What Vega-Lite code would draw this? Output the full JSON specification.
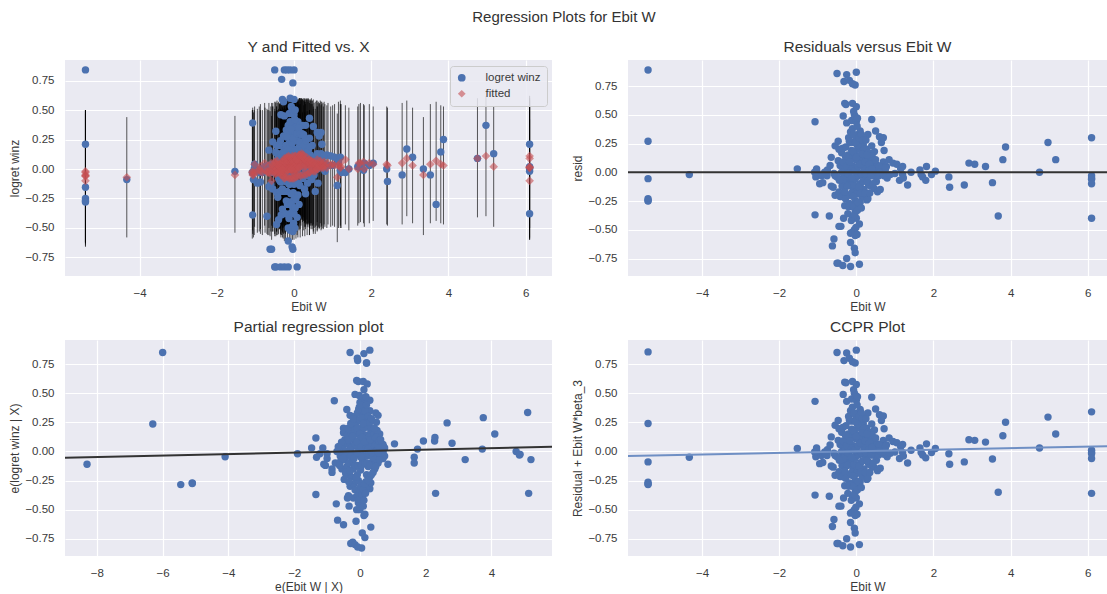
{"$schema":"https://vega.github.io/schema/vega-lite/v6.json","padding":{"left":8,"top":9,"right":0,"bottom":0},"background":"white","title":{"text":"Regression Plots for Ebit W","fontSize":15,"fontWeight":"normal","color":"#333333","anchor":"middle","offset":15.5,"dx":6},"config":{"font":"Liberation Sans","view":{"fill":"#EAEAF2","stroke":null},"axis":{"domain":false,"ticks":false,"grid":true,"gridColor":"#FFFFFF","gridWidth":1.2,"labelColor":"#3a3a3a","titleColor":"#3a3a3a","labelFontSize":11.5,"titleFontSize":12,"titleFontWeight":"normal","labelPadding":11,"titlePadding":3,"labelOverlap":false,"tickCount":20},"title":{"fontSize":15.5,"fontWeight":"normal","color":"#333333","offset":4.5}},"datasets":{"obs":[
{"x":-5.4,"y":0.84,"f":-0.05,"lo":-0.65,"hi":0.5,"r":0.89,"c":0.855,"ex":-6,"ey":0.85},
{"x":-5.4,"y":0.21,"f":-0.06,"lo":-0.66,"hi":0.49,"r":0.27,"c":0.24,"ex":-6.3,"ey":0.235},
{"x":-5.4,"y":-0.155,"f":-0.1,"lo":-0.62,"hi":0.47,"r":-0.055,"c":-0.09,"ex":-8.3,"ey":-0.11},
{"x":-5.4,"y":-0.25,"f":-0.02,"lo":-0.62,"hi":0.5,"r":-0.23,"c":-0.265,"ex":-5.1,"ey":-0.27},
{"x":-5.4,"y":-0.28,"f":-0.03,"lo":-0.63,"hi":0.5,"r":-0.25,"c":-0.285,"ex":-5.45,"ey":-0.285},
{"x":-5.4,"y":-0.27,"f":-0.06,"lo":-0.63,"hi":0.5,"r":-0.245,"c":-0.28,"ex":-5.1,"ey":-0.275},
{"x":-4.33,"y":-0.09,"f":-0.07,"lo":-0.58,"hi":0.44,"r":-0.02,"c":-0.05,"ex":-4.1,"ey":-0.045},
{"x":-1.53,"y":-0.02,"f":-0.05,"lo":-0.54,"hi":0.45,"r":0.03,"c":0.025,"ex":-1.9,"ey":-0.02},
{"x":-1.07,"y":0.39,"f":-0.05,"lo":-0.52,"hi":0.52,"r":0.44,"c":0.43,"ex":-0.78,"ey":0.435},
{"x":-1.07,"y":-0.39,"f":-0.02,"lo":-0.55,"hi":0.5,"r":-0.37,"c":-0.375,"ex":-1.34,"ey":-0.37},
{"x":-1.03,"y":0.0,"f":-0.03,"lo":-0.56,"hi":0.5,"r":0.03,"c":0.03,"ex":-1.47,"ey":0.03},
{"x":-1.08,"y":-0.03,"f":-0.03,"lo":-0.59,"hi":0.5,"r":0.0,"c":-0.005,"ex":-1.22,"ey":-0.02},
{"x":-1.05,"y":-0.09,"f":-0.05,"lo":-0.58,"hi":0.48,"r":-0.04,"c":-0.045,"ex":-1.32,"ey":-0.05},
{"x":-1.02,"y":0.04,"f":0.04,"lo":-0.49,"hi":0.53,"r":0.0,"c":0.0,"ex":-1.13,"ey":0.03},
{"x":-0.95,"y":-0.12,"f":-0.02,"lo":-0.54,"hi":0.51,"r":-0.1,"c":-0.105,"ex":-1.05,"ey":-0.12},
{"x":-0.87,"y":-0.11,"f":-0.02,"lo":-0.55,"hi":0.5,"r":-0.09,"c":-0.095,"ex":-1.1,"ey":-0.11},
{"x":-0.9,"y":-0.03,"f":0.0,"lo":-0.53,"hi":0.53,"r":-0.03,"c":-0.035,"ex":-1.0,"ey":-0.02},
{"x":-0.87,"y":0.0,"f":0.02,"lo":-0.51,"hi":0.55,"r":-0.02,"c":-0.025,"ex":-1.0,"ey":-0.06},
{"x":-0.75,"y":0.01,"f":-0.01,"lo":-0.54,"hi":0.52,"r":0.02,"c":0.015,"ex":-0.85,"ey":-0.15},
{"x":-0.7,"y":-0.4,"f":-0.02,"lo":-0.55,"hi":0.51,"r":-0.38,"c":-0.385,"ex":-0.72,"ey":-0.45},
{"x":-0.65,"y":0.16,"f":0.03,"lo":-0.5,"hi":0.56,"r":0.13,"c":0.125,"ex":-1.34,"ey":0.115},
{"x":-0.65,"y":-0.15,"f":-0.03,"lo":-0.56,"hi":0.5,"r":-0.12,"c":-0.125,"ex":-0.85,"ey":-0.18},
{"x":-0.62,"y":-0.68,"f":-0.04,"lo":-0.57,"hi":0.49,"r":-0.64,"c":-0.645,"ex":-0.5,"ey":-0.63},
{"x":-0.58,"y":-0.68,"f":-0.1,"lo":-0.6,"hi":0.45,"r":-0.58,"c":-0.585,"ex":-0.68,"ey":-0.59},
{"x":-0.55,"y":0.23,"f":0.0,"lo":-0.53,"hi":0.53,"r":0.23,"c":0.225,"ex":-0.5,"ey":0.2},
{"x":-0.55,"y":-0.17,"f":0.03,"lo":-0.5,"hi":0.56,"r":-0.2,"c":-0.205,"ex":-0.48,"ey":-0.24},
{"x":-0.6,"y":-0.13,"f":0.0,"lo":-0.53,"hi":0.53,"r":-0.13,"c":-0.135,"ex":-0.75,"ey":-0.1},
{"x":-0.55,"y":-0.03,"f":0.0,"lo":-0.53,"hi":0.53,"r":-0.03,"c":-0.035,"ex":-0.6,"ey":-0.04},
{"x":-0.5,"y":0.84,"f":-0.02,"lo":-0.55,"hi":0.51,"r":0.86,"c":0.85,"ex":-0.3,"ey":0.85},
{"x":-0.5,"y":-0.83,"f":-0.04,"lo":-0.57,"hi":0.49,"r":-0.79,"c":-0.79,"ex":-0.28,"ey":-0.79},
{"x":-0.47,"y":-0.83,"f":-0.04,"lo":-0.57,"hi":0.49,"r":-0.79,"c":-0.79,"ex":-0.22,"ey":-0.78},
{"x":-0.47,"y":0.32,"f":0.05,"lo":-0.48,"hi":0.56,"r":0.27,"c":0.265,"ex":-0.3,"ey":0.31},
{"x":-0.47,"y":0.14,"f":0.04,"lo":-0.49,"hi":0.57,"r":0.1,"c":0.095,"ex":-0.6,"ey":0.05},
{"x":-0.45,"y":-0.2,"f":-0.03,"lo":-0.56,"hi":0.5,"r":-0.17,"c":-0.175,"ex":-0.6,"ey":-0.09},
{"x":-0.45,"y":-0.47,"f":0.0,"lo":-0.53,"hi":0.53,"r":-0.47,"c":-0.47,"ex":-0.33,"ey":-0.47},
{"x":-0.45,"y":0.2,"f":0.0,"lo":-0.53,"hi":0.53,"r":0.2,"c":0.195,"ex":-0.5,"ey":0.16},
{"x":-0.42,"y":-0.24,"f":-0.03,"lo":-0.56,"hi":0.5,"r":-0.21,"c":-0.215,"ex":-0.55,"ey":-0.15},
{"x":-0.4,"y":-0.43,"f":0.04,"lo":-0.49,"hi":0.57,"r":-0.47,"c":-0.47,"ex":-0.38,"ey":-0.4},
{"x":-0.38,"y":0.2,"f":0.03,"lo":-0.5,"hi":0.56,"r":0.17,"c":0.165,"ex":-0.55,"ey":0.0},
{"x":-0.38,"y":0.02,"f":0.02,"lo":-0.51,"hi":0.55,"r":0.0,"c":0.0,"ex":-0.5,"ey":0.05},
{"x":-0.36,"y":-0.19,"f":0.02,"lo":-0.51,"hi":0.55,"r":-0.21,"c":-0.215,"ex":-0.42,"ey":-0.2},
{"x":-0.35,"y":-0.83,"f":-0.02,"lo":-0.55,"hi":0.51,"r":-0.81,"c":-0.81,"ex":-0.15,"ey":-0.8},
{"x":-0.35,"y":0.24,"f":0.03,"lo":-0.5,"hi":0.56,"r":0.21,"c":0.205,"ex":-0.4,"ey":0.36},
{"x":-0.34,"y":0.46,"f":-0.03,"lo":-0.56,"hi":0.5,"r":0.49,"c":0.49,"ex":-0.15,"ey":0.49},
{"x":-0.33,"y":-0.39,"f":0.01,"lo":-0.52,"hi":0.54,"r":-0.4,"c":-0.4,"ex":-0.35,"ey":-0.38},
{"x":-0.33,"y":-0.02,"f":0.05,"lo":-0.48,"hi":0.58,"r":-0.07,"c":-0.07,"ex":-0.45,"ey":-0.07},
{"x":-0.32,"y":0.76,"f":-0.03,"lo":-0.56,"hi":0.5,"r":0.79,"c":0.78,"ex":-0.07,"ey":0.78},
{"x":-0.32,"y":0.1,"f":0.06,"lo":-0.47,"hi":0.59,"r":0.04,"c":0.04,"ex":-0.38,"ey":0.07},
{"x":-0.3,"y":0.59,"f":-0.01,"lo":-0.54,"hi":0.52,"r":0.6,"c":0.595,"ex":-0.1,"ey":0.61},
{"x":-0.3,"y":-0.34,"f":-0.05,"lo":-0.58,"hi":0.48,"r":-0.29,"c":-0.295,"ex":-0.3,"ey":-0.3},
{"x":-0.3,"y":-0.1,"f":0.03,"lo":-0.5,"hi":0.56,"r":-0.13,"c":-0.13,"ex":-0.4,"ey":-0.13},
{"x":-0.27,"y":0.57,"f":-0.02,"lo":-0.55,"hi":0.51,"r":0.59,"c":0.59,"ex":-0.05,"ey":0.6},
{"x":-0.26,"y":0.16,"f":0.03,"lo":-0.5,"hi":0.56,"r":0.13,"c":0.125,"ex":-0.35,"ey":0.2},
{"x":-0.25,"y":-0.83,"f":-0.08,"lo":-0.61,"hi":0.45,"r":-0.75,"c":-0.75,"ex":-0.07,"ey":-0.82},
{"x":-0.25,"y":0.45,"f":0.02,"lo":-0.51,"hi":0.55,"r":0.43,"c":0.43,"ex":0.0,"ey":0.42},
{"x":-0.25,"y":0.84,"f":-0.01,"lo":-0.54,"hi":0.52,"r":0.85,"c":0.845,"ex":0.12,"ey":0.84},
{"x":-0.24,"y":-0.03,"f":0.05,"lo":-0.48,"hi":0.58,"r":-0.08,"c":-0.08,"ex":-0.32,"ey":-0.1},
{"x":-0.22,"y":-0.38,"f":-0.02,"lo":-0.55,"hi":0.51,"r":-0.36,"c":-0.36,"ex":-0.2,"ey":-0.4},
{"x":-0.22,"y":0.08,"f":0.08,"lo":-0.45,"hi":0.59,"r":0.0,"c":0.0,"ex":-0.33,"ey":0.0},
{"x":-0.2,"y":0.33,"f":0.03,"lo":-0.5,"hi":0.56,"r":0.3,"c":0.3,"ex":-0.15,"ey":0.3},
{"x":-0.2,"y":-0.27,"f":0.03,"lo":-0.5,"hi":0.56,"r":-0.3,"c":-0.3,"ex":-0.18,"ey":-0.28},
{"x":-0.19,"y":-0.11,"f":0.09,"lo":-0.44,"hi":0.58,"r":-0.2,"c":-0.2,"ex":-0.27,"ey":-0.22},
{"x":-0.18,"y":0.84,"f":0.04,"lo":-0.49,"hi":0.57,"r":0.8,"c":0.8,"ex":-0.08,"ey":0.8},
{"x":-0.17,"y":0.14,"f":0.06,"lo":-0.47,"hi":0.59,"r":0.08,"c":0.08,"ex":-0.25,"ey":0.12},
{"x":-0.16,"y":-0.05,"f":0.05,"lo":-0.48,"hi":0.58,"r":-0.1,"c":-0.1,"ex":-0.24,"ey":-0.05},
{"x":-0.15,"y":-0.61,"f":0.0,"lo":-0.53,"hi":0.53,"r":-0.61,"c":-0.61,"ex":-0.12,"ey":-0.6},
{"x":-0.15,"y":0.37,"f":0.02,"lo":-0.51,"hi":0.55,"r":0.35,"c":0.35,"ex":-0.08,"ey":0.33},
{"x":-0.15,"y":-0.83,"f":-0.01,"lo":-0.54,"hi":0.52,"r":-0.82,"c":-0.82,"ex":0.05,"ey":-0.83},
{"x":-0.15,"y":-0.5,"f":0.03,"lo":-0.5,"hi":0.56,"r":-0.53,"c":-0.53,"ex":-0.1,"ey":-0.5},
{"x":-0.13,"y":0.05,"f":0.1,"lo":-0.43,"hi":0.59,"r":-0.05,"c":-0.05,"ex":-0.25,"ey":-0.02},
{"x":-0.12,"y":0.47,"f":0.02,"lo":-0.51,"hi":0.55,"r":0.45,"c":0.45,"ex":0.05,"ey":0.45},
{"x":-0.12,"y":0.22,"f":0.03,"lo":-0.5,"hi":0.56,"r":0.19,"c":0.19,"ex":-0.18,"ey":0.22},
{"x":-0.1,"y":0.84,"f":0.07,"lo":-0.46,"hi":0.59,"r":0.77,"c":0.77,"ex":0.2,"ey":0.76},
{"x":-0.1,"y":0.6,"f":0.0,"lo":-0.53,"hi":0.53,"r":0.6,"c":0.6,"ex":0.1,"ey":0.6},
{"x":-0.1,"y":-0.38,"f":0.02,"lo":-0.51,"hi":0.55,"r":-0.4,"c":-0.4,"ex":-0.05,"ey":-0.44},
{"x":-0.1,"y":-0.28,"f":0.02,"lo":-0.51,"hi":0.55,"r":-0.3,"c":-0.3,"ex":-0.12,"ey":-0.25},
{"x":-0.1,"y":-0.52,"f":0.0,"lo":-0.53,"hi":0.53,"r":-0.52,"c":-0.52,"ex":0.0,"ey":-0.5},
{"x":-0.09,"y":0.11,"f":0.09,"lo":-0.44,"hi":0.58,"r":0.02,"c":0.02,"ex":-0.18,"ey":0.05},
{"x":-0.08,"y":-0.07,"f":0.08,"lo":-0.45,"hi":0.59,"r":-0.15,"c":-0.15,"ex":-0.2,"ey":-0.15},
{"x":-0.07,"y":0.53,"f":0.0,"lo":-0.53,"hi":0.53,"r":0.53,"c":0.53,"ex":0.12,"ey":0.53},
{"x":-0.06,"y":0.3,"f":0.04,"lo":-0.49,"hi":0.57,"r":0.26,"c":0.26,"ex":-0.1,"ey":0.25},
{"x":-0.05,"y":0.5,"f":0.0,"lo":-0.53,"hi":0.53,"r":0.5,"c":0.5,"ex":-0.02,"ey":0.48},
{"x":-0.05,"y":-0.66,"f":0.0,"lo":-0.53,"hi":0.53,"r":-0.66,"c":-0.66,"ex":0.33,"ey":-0.65},
{"x":-0.05,"y":-0.49,"f":0.01,"lo":-0.52,"hi":0.54,"r":-0.5,"c":-0.5,"ex":0.0,"ey":-0.45},
{"x":-0.04,"y":0.06,"f":0.11,"lo":-0.42,"hi":0.6,"r":-0.05,"c":-0.05,"ex":-0.12,"ey":-0.03},
{"x":-0.03,"y":-0.68,"f":0.02,"lo":-0.51,"hi":0.55,"r":-0.7,"c":-0.7,"ex":0.07,"ey":-0.7},
{"x":-0.03,"y":0.73,"f":-0.03,"lo":-0.56,"hi":0.5,"r":0.76,"c":0.76,"ex":0.2,"ey":0.76},
{"x":-0.03,"y":-0.33,"f":0.02,"lo":-0.51,"hi":0.55,"r":-0.35,"c":-0.35,"ex":0.05,"ey":-0.35},
{"x":-0.03,"y":-0.53,"f":0.02,"lo":-0.51,"hi":0.55,"r":-0.55,"c":-0.55,"ex":0.12,"ey":-0.55},
{"x":-0.02,"y":0.5,"f":0.02,"lo":-0.51,"hi":0.55,"r":0.48,"c":0.48,"ex":0.15,"ey":0.43},
{"x":-0.02,"y":-0.2,"f":0.05,"lo":-0.48,"hi":0.58,"r":-0.25,"c":-0.25,"ex":-0.05,"ey":-0.25},
{"x":-0.01,"y":0.17,"f":0.06,"lo":-0.47,"hi":0.59,"r":0.11,"c":0.11,"ex":-0.12,"ey":0.15},
{"x":0.0,"y":0.84,"f":-0.03,"lo":-0.56,"hi":0.5,"r":0.87,"c":0.87,"ex":0.3,"ey":0.87},
{"x":0.0,"y":0.59,"f":0.02,"lo":-0.51,"hi":0.55,"r":0.57,"c":0.575,"ex":0.22,"ey":0.58},
{"x":0.0,"y":0.46,"f":0.02,"lo":-0.51,"hi":0.55,"r":0.44,"c":0.44,"ex":0.25,"ey":0.44},
{"x":0.0,"y":-0.38,"f":0.02,"lo":-0.51,"hi":0.55,"r":-0.4,"c":-0.4,"ex":0.08,"ey":-0.4},
{"x":0.0,"y":-0.26,"f":0.02,"lo":-0.51,"hi":0.55,"r":-0.28,"c":-0.28,"ex":0.05,"ey":-0.28},
{"x":0.0,"y":0.04,"f":0.04,"lo":-0.49,"hi":0.57,"r":0.0,"c":0.0,"ex":-0.05,"ey":0.0},
{"x":0.02,"y":-0.5,"f":0.04,"lo":-0.49,"hi":0.57,"r":-0.54,"c":-0.54,"ex":0.15,"ey":-0.54},
{"x":0.03,"y":-0.1,"f":0.06,"lo":-0.47,"hi":0.59,"r":-0.16,"c":-0.16,"ex":0.02,"ey":-0.16},
{"x":0.04,"y":0.09,"f":0.11,"lo":-0.42,"hi":0.6,"r":-0.02,"c":-0.02,"ex":-0.03,"ey":0.03},
{"x":0.05,"y":0.36,"f":0.03,"lo":-0.5,"hi":0.56,"r":0.33,"c":0.33,"ex":0.08,"ey":0.33},
{"x":0.05,"y":0.24,"f":0.04,"lo":-0.49,"hi":0.57,"r":0.2,"c":0.2,"ex":0.05,"ey":0.2},
{"x":0.08,"y":-0.83,"f":-0.03,"lo":-0.56,"hi":0.5,"r":-0.8,"c":-0.8,"ex":0.15,"ey":-0.74},
{"x":0.08,"y":-0.41,"f":0.04,"lo":-0.49,"hi":0.57,"r":-0.45,"c":-0.45,"ex":0.1,"ey":-0.47},
{"x":0.08,"y":0.15,"f":0.09,"lo":-0.44,"hi":0.58,"r":0.06,"c":0.06,"ex":0.02,"ey":0.08},
{"x":0.1,"y":0.4,"f":0.04,"lo":-0.49,"hi":0.57,"r":0.36,"c":0.36,"ex":0.12,"ey":0.38},
{"x":0.1,"y":-0.22,"f":0.04,"lo":-0.49,"hi":0.57,"r":-0.26,"c":-0.26,"ex":0.18,"ey":-0.26},
{"x":0.11,"y":0.0,"f":0.1,"lo":-0.43,"hi":0.59,"r":-0.1,"c":-0.1,"ex":0.08,"ey":-0.08},
{"x":0.12,"y":0.3,"f":0.05,"lo":-0.48,"hi":0.58,"r":0.25,"c":0.25,"ex":0.2,"ey":0.28},
{"x":0.14,"y":0.19,"f":0.11,"lo":-0.42,"hi":0.6,"r":0.08,"c":0.08,"ex":0.1,"ey":0.1},
{"x":0.15,"y":-0.14,"f":0.07,"lo":-0.46,"hi":0.6,"r":-0.21,"c":-0.21,"ex":0.2,"ey":-0.2},
{"x":0.17,"y":0.1,"f":0.12,"lo":-0.41,"hi":0.6,"r":-0.02,"c":-0.02,"ex":0.13,"ey":-0.03},
{"x":0.18,"y":0.29,"f":0.05,"lo":-0.48,"hi":0.58,"r":0.24,"c":0.24,"ex":0.15,"ey":0.22},
{"x":0.2,"y":-0.05,"f":0.1,"lo":-0.43,"hi":0.59,"r":-0.15,"c":-0.15,"ex":0.25,"ey":-0.13},
{"x":0.2,"y":0.2,"f":0.13,"lo":-0.4,"hi":0.6,"r":0.07,"c":0.07,"ex":0.22,"ey":0.09},
{"x":0.22,"y":0.37,"f":0.08,"lo":-0.45,"hi":0.59,"r":0.29,"c":0.29,"ex":0.28,"ey":0.25},
{"x":0.25,"y":0.05,"f":0.09,"lo":-0.44,"hi":0.58,"r":-0.04,"c":-0.04,"ex":0.2,"ey":-0.04},
{"x":0.27,"y":-0.17,"f":0.07,"lo":-0.46,"hi":0.6,"r":-0.24,"c":-0.24,"ex":0.3,"ey":-0.32},
{"x":0.27,"y":0.24,"f":0.04,"lo":-0.49,"hi":0.57,"r":0.2,"c":0.2,"ex":0.33,"ey":0.18},
{"x":0.28,"y":0.14,"f":0.08,"lo":-0.45,"hi":0.59,"r":0.06,"c":0.06,"ex":0.3,"ey":0.08},
{"x":0.3,"y":0.37,"f":0.04,"lo":-0.49,"hi":0.57,"r":0.33,"c":0.33,"ex":0.3,"ey":0.35},
{"x":0.3,"y":-0.21,"f":0.02,"lo":-0.51,"hi":0.55,"r":-0.23,"c":-0.23,"ex":0.3,"ey":-0.22},
{"x":0.32,"y":-0.05,"f":0.06,"lo":-0.47,"hi":0.59,"r":-0.11,"c":-0.11,"ex":0.35,"ey":-0.1},
{"x":0.34,"y":0.19,"f":0.07,"lo":-0.46,"hi":0.6,"r":0.12,"c":0.12,"ex":0.38,"ey":0.17},
{"x":0.36,"y":0.05,"f":0.04,"lo":-0.49,"hi":0.57,"r":0.01,"c":0.01,"ex":0.34,"ey":0.02},
{"x":0.38,"y":-0.06,"f":0.06,"lo":-0.47,"hi":0.59,"r":-0.12,"c":-0.12,"ex":0.4,"ey":-0.12},
{"x":0.4,"y":0.43,"f":-0.03,"lo":-0.56,"hi":0.5,"r":0.46,"c":0.465,"ex":0.3,"ey":0.44},
{"x":0.4,"y":0.26,"f":0.03,"lo":-0.5,"hi":0.56,"r":0.23,"c":0.235,"ex":0.28,"ey":0.21},
{"x":0.42,"y":0.12,"f":0.05,"lo":-0.48,"hi":0.58,"r":0.07,"c":0.075,"ex":0.43,"ey":0.1},
{"x":0.44,"y":-0.01,"f":0.02,"lo":-0.51,"hi":0.55,"r":-0.03,"c":-0.03,"ex":0.42,"ey":-0.03},
{"x":0.46,"y":-0.09,"f":0.05,"lo":-0.48,"hi":0.58,"r":-0.14,"c":-0.135,"ex":0.45,"ey":-0.1},
{"x":0.47,"y":0.2,"f":0.02,"lo":-0.51,"hi":0.55,"r":0.18,"c":0.185,"ex":0.5,"ey":0.16},
{"x":0.5,"y":0.36,"f":0.0,"lo":-0.53,"hi":0.53,"r":0.36,"c":0.365,"ex":0.48,"ey":0.33},
{"x":0.5,"y":0.08,"f":0.06,"lo":-0.47,"hi":0.59,"r":0.02,"c":0.025,"ex":0.5,"ey":0.03},
{"x":0.52,"y":-0.05,"f":0.03,"lo":-0.5,"hi":0.56,"r":-0.08,"c":-0.075,"ex":0.5,"ey":-0.09},
{"x":0.55,"y":-0.19,"f":-0.02,"lo":-0.55,"hi":0.51,"r":-0.17,"c":-0.165,"ex":0.35,"ey":-0.2},
{"x":0.6,"y":0.31,"f":0.0,"lo":-0.53,"hi":0.53,"r":0.31,"c":0.315,"ex":0.55,"ey":0.31},
{"x":0.62,"y":-0.12,"f":0.03,"lo":-0.5,"hi":0.56,"r":-0.15,"c":-0.145,"ex":0.45,"ey":-0.15},
{"x":0.65,"y":0.28,"f":0.02,"lo":-0.51,"hi":0.55,"r":0.26,"c":0.265,"ex":0.5,"ey":0.25},
{"x":0.63,"y":0.05,"f":0.04,"lo":-0.49,"hi":0.57,"r":0.01,"c":0.015,"ex":0.72,"ey":0.04},
{"x":0.7,"y":0.31,"f":0.01,"lo":-0.52,"hi":0.54,"r":0.3,"c":0.305,"ex":0.55,"ey":0.15},
{"x":0.7,"y":0.13,"f":0.04,"lo":-0.49,"hi":0.57,"r":0.09,"c":0.095,"ex":0.55,"ey":0.1},
{"x":0.72,"y":0.21,"f":0.02,"lo":-0.51,"hi":0.55,"r":0.19,"c":0.195,"ex":0.6,"ey":0.15},
{"x":0.75,"y":0.05,"f":0.03,"lo":-0.5,"hi":0.56,"r":0.02,"c":0.025,"ex":0.75,"ey":0.03},
{"x":0.8,"y":-0.02,"f":0.03,"lo":-0.49,"hi":0.55,"r":-0.05,"c":-0.045,"ex":0.75,"ey":-0.04},
{"x":0.85,"y":0.12,"f":0.01,"lo":-0.5,"hi":0.54,"r":0.11,"c":0.115,"ex":0.4,"ey":0.09},
{"x":0.95,"y":0.11,"f":0.03,"lo":-0.49,"hi":0.53,"r":0.08,"c":0.085,"ex":0.45,"ey":0.06},
{"x":1.0,"y":0.03,"f":0.04,"lo":-0.48,"hi":0.54,"r":-0.01,"c":-0.005,"ex":0.5,"ey":0.0},
{"x":1.05,"y":0.1,"f":0.03,"lo":-0.49,"hi":0.55,"r":0.07,"c":0.075,"ex":1.05,"ey":0.065},
{"x":1.12,"y":-0.14,"f":-0.07,"lo":-0.62,"hi":0.47,"r":-0.07,"c":-0.06,"ex":0.55,"ey":-0.06},
{"x":1.15,"y":0.06,"f":0.03,"lo":-0.5,"hi":0.57,"r":0.03,"c":0.04,"ex":0.6,"ey":0.04},
{"x":1.2,"y":0.1,"f":0.05,"lo":-0.48,"hi":0.58,"r":0.05,"c":0.06,"ex":0.6,"ey":0.07},
{"x":1.2,"y":-0.01,"f":0.01,"lo":-0.5,"hi":0.55,"r":-0.02,"c":-0.01,"ex":0.62,"ey":-0.02},
{"x":1.22,"y":-0.03,"f":0.02,"lo":-0.5,"hi":0.55,"r":-0.05,"c":-0.04,"ex":0.6,"ey":-0.05},
{"x":1.33,"y":-0.03,"f":0.08,"lo":-0.47,"hi":0.54,"r":-0.11,"c":-0.1,"ex":0.55,"ey":-0.1},
{"x":1.42,"y":0.0,"f":0.0,"lo":-0.52,"hi":0.52,"r":0.0,"c":0.01,"ex":0.7,"ey":0.0},
{"x":1.65,"y":0.02,"f":0.0,"lo":-0.48,"hi":0.53,"r":0.02,"c":0.03,"ex":0.65,"ey":0.03},
{"x":1.68,"y":0.03,"f":0.05,"lo":-0.46,"hi":0.55,"r":-0.02,"c":-0.01,"ex":0.6,"ey":-0.01},
{"x":1.72,"y":0.01,"f":0.05,"lo":-0.45,"hi":0.56,"r":-0.04,"c":-0.03,"ex":0.72,"ey":-0.03},
{"x":1.8,"y":-0.01,"f":0.06,"lo":-0.46,"hi":0.55,"r":-0.07,"c":-0.055,"ex":0.7,"ey":-0.06},
{"x":1.82,"y":0.05,"f":0.0,"lo":-0.49,"hi":0.54,"r":0.05,"c":0.065,"ex":0.7,"ey":0.06},
{"x":1.95,"y":0.03,"f":0.05,"lo":-0.46,"hi":0.55,"r":-0.02,"c":-0.01,"ex":0.65,"ey":-0.01},
{"x":2.05,"y":0.05,"f":0.04,"lo":-0.44,"hi":0.53,"r":0.01,"c":0.025,"ex":1.75,"ey":0.02},
{"x":2.4,"y":0.0,"f":0.04,"lo":-0.47,"hi":0.53,"r":-0.04,"c":-0.02,"ex":1.65,"ey":-0.05},
{"x":2.42,"y":-0.105,"f":0.03,"lo":-0.48,"hi":0.52,"r":-0.13,"c":-0.11,"ex":0.85,"ey":-0.11},
{"x":2.8,"y":-0.05,"f":0.05,"lo":-0.47,"hi":0.56,"r":-0.11,"c":-0.09,"ex":1.65,"ey":-0.1},
{"x":2.92,"y":0.17,"f":0.09,"lo":-0.4,"hi":0.58,"r":0.08,"c":0.1,"ex":2.27,"ey":0.09},
{"x":3.07,"y":0.1,"f":0.03,"lo":-0.46,"hi":0.52,"r":0.07,"c":0.095,"ex":1.93,"ey":0.09},
{"x":3.35,"y":0.0,"f":-0.05,"lo":-0.56,"hi":0.44,"r":0.05,"c":0.08,"ex":2.8,"ey":0.07},
{"x":3.53,"y":-0.05,"f":0.04,"lo":-0.46,"hi":0.55,"r":-0.09,"c":-0.065,"ex":3.2,"ey":-0.07},
{"x":3.68,"y":-0.3,"f":0.07,"lo":-0.44,"hi":0.57,"r":-0.38,"c":-0.35,"ex":2.3,"ey":-0.36},
{"x":3.8,"y":0.145,"f":0.04,"lo":-0.46,"hi":0.54,"r":0.11,"c":0.135,"ex":2.28,"ey":0.12},
{"x":3.87,"y":0.25,"f":0.03,"lo":-0.47,"hi":0.53,"r":0.22,"c":0.25,"ex":2.65,"ey":0.245},
{"x":4.75,"y":0.09,"f":0.09,"lo":-0.41,"hi":0.6,"r":0.0,"c":0.03,"ex":3.72,"ey":0.02},
{"x":4.97,"y":0.37,"f":0.11,"lo":-0.4,"hi":0.62,"r":0.26,"c":0.295,"ex":3.75,"ey":0.29},
{"x":5.17,"y":0.13,"f":0.02,"lo":-0.49,"hi":0.53,"r":0.11,"c":0.15,"ex":4.1,"ey":0.15},
{"x":6.1,"y":0.21,"f":-0.1,"lo":-0.6,"hi":0.42,"r":0.3,"c":0.34,"ex":5.1,"ey":0.335},
{"x":6.1,"y":-0.02,"f":0.01,"lo":-0.58,"hi":0.6,"r":-0.03,"c":0.01,"ex":4.75,"ey":0.0},
{"x":6.1,"y":0.0,"f":0.01,"lo":-0.59,"hi":0.6,"r":-0.05,"c":-0.01,"ex":4.85,"ey":-0.03},
{"x":6.1,"y":0.02,"f":0.09,"lo":-0.5,"hi":0.62,"r":-0.06,"c":-0.02,"ex":4.87,"ey":-0.025},
{"x":6.1,"y":0.01,"f":0.11,"lo":-0.5,"hi":0.62,"r":-0.1,"c":-0.06,"ex":5.2,"ey":-0.07},
{"x":6.1,"y":-0.38,"f":0.02,"lo":-0.6,"hi":0.58,"r":-0.4,"c":-0.36,"ex":5.13,"ey":-0.36},
{"x":-0.42,"y":0.09,"f":0.03,"lo":-0.5,"hi":0.56,"r":0.06,"c":0.06,"ex":-0.46,"ey":0.1},
{"x":-0.4,"y":-0.08,"f":-0.02,"lo":-0.55,"hi":0.51,"r":-0.06,"c":-0.06,"ex":-0.4,"ey":-0.02},
{"x":-0.37,"y":-0.1,"f":0.02,"lo":-0.51,"hi":0.55,"r":-0.12,"c":-0.12,"ex":-0.44,"ey":-0.18},
{"x":-0.34,"y":0.13,"f":0.04,"lo":-0.49,"hi":0.57,"r":0.09,"c":0.09,"ex":-0.38,"ey":0.14},
{"x":-0.29,"y":0.04,"f":0.06,"lo":-0.47,"hi":0.59,"r":-0.02,"c":-0.02,"ex":-0.3,"ey":0.04},
{"x":-0.28,"y":-0.19,"f":0.04,"lo":-0.49,"hi":0.57,"r":-0.23,"c":-0.23,"ex":-0.34,"ey":-0.26},
{"x":-0.27,"y":0.28,"f":0.06,"lo":-0.47,"hi":0.59,"r":0.22,"c":0.22,"ex":-0.28,"ey":0.24},
{"x":-0.25,"y":0.14,"f":0.09,"lo":-0.44,"hi":0.58,"r":0.05,"c":0.05,"ex":-0.28,"ey":0.17},
{"x":-0.23,"y":-0.1,"f":0.02,"lo":-0.51,"hi":0.55,"r":-0.12,"c":-0.12,"ex":-0.3,"ey":-0.17},
{"x":-0.21,"y":0.2,"f":0.05,"lo":-0.48,"hi":0.58,"r":0.15,"c":0.15,"ex":-0.26,"ey":0.03},
{"x":-0.19,"y":0.06,"f":0.1,"lo":-0.43,"hi":0.59,"r":-0.04,"c":-0.04,"ex":-0.22,"ey":-0.08},
{"x":-0.18,"y":-0.19,"f":0.08,"lo":-0.45,"hi":0.59,"r":-0.27,"c":-0.27,"ex":-0.15,"ey":-0.33},
{"x":-0.16,"y":0.32,"f":0.06,"lo":-0.47,"hi":0.59,"r":0.26,"c":0.26,"ex":-0.2,"ey":0.28},
{"x":-0.14,"y":0.12,"f":0.11,"lo":-0.42,"hi":0.6,"r":0.01,"c":0.01,"ex":-0.2,"ey":0.1},
{"x":-0.12,"y":-0.13,"f":0.05,"lo":-0.48,"hi":0.58,"r":-0.18,"c":-0.18,"ex":-0.15,"ey":-0.12},
{"x":-0.11,"y":0.18,"f":0.05,"lo":-0.48,"hi":0.58,"r":0.13,"c":0.13,"ex":-0.16,"ey":0.18},
{"x":-0.07,"y":0.12,"f":0.07,"lo":-0.46,"hi":0.6,"r":0.05,"c":0.05,"ex":-0.14,"ey":0.06},
{"x":-0.06,"y":-0.02,"f":0.09,"lo":-0.44,"hi":0.58,"r":-0.11,"c":-0.11,"ex":-0.08,"ey":-0.2},
{"x":-0.05,"y":0.22,"f":0.06,"lo":-0.47,"hi":0.59,"r":0.16,"c":0.16,"ex":-0.08,"ey":0.2},
{"x":-0.03,"y":0.01,"f":0.07,"lo":-0.46,"hi":0.6,"r":-0.06,"c":-0.06,"ex":-0.06,"ey":-0.12},
{"x":-0.02,"y":0.36,"f":0.05,"lo":-0.48,"hi":0.58,"r":0.31,"c":0.31,"ex":-0.02,"ey":0.38},
{"x":0.0,"y":-0.13,"f":0.06,"lo":-0.47,"hi":0.59,"r":-0.19,"c":-0.19,"ex":-0.02,"ey":-0.33},
{"x":0.02,"y":0.15,"f":0.11,"lo":-0.42,"hi":0.6,"r":0.04,"c":0.04,"ex":0.0,"ey":0.1},
{"x":0.03,"y":0.3,"f":0.07,"lo":-0.46,"hi":0.6,"r":0.23,"c":0.23,"ex":0.0,"ey":0.27},
{"x":0.06,"y":0.05,"f":0.08,"lo":-0.45,"hi":0.59,"r":-0.03,"c":-0.03,"ex":0.03,"ey":-0.05},
{"x":0.07,"y":-0.05,"f":0.08,"lo":-0.45,"hi":0.59,"r":-0.13,"c":-0.13,"ex":0.05,"ey":-0.12},
{"x":0.09,"y":0.24,"f":0.1,"lo":-0.43,"hi":0.59,"r":0.14,"c":0.14,"ex":0.05,"ey":0.16},
{"x":0.11,"y":-0.12,"f":0.06,"lo":-0.47,"hi":0.59,"r":-0.18,"c":-0.18,"ex":0.1,"ey":-0.3},
{"x":0.13,"y":0.11,"f":0.12,"lo":-0.41,"hi":0.6,"r":-0.01,"c":-0.01,"ex":0.1,"ey":0.02},
{"x":0.15,"y":0.23,"f":0.12,"lo":-0.41,"hi":0.6,"r":0.11,"c":0.11,"ex":0.12,"ey":0.2},
{"x":0.17,"y":0.02,"f":0.1,"lo":-0.43,"hi":0.59,"r":-0.08,"c":-0.08,"ex":0.15,"ey":-0.1},
{"x":0.19,"y":0.15,"f":0.11,"lo":-0.42,"hi":0.6,"r":0.04,"c":0.04,"ex":0.17,"ey":0.14},
{"x":0.21,"y":0.3,"f":0.1,"lo":-0.43,"hi":0.59,"r":0.2,"c":0.2,"ex":0.18,"ey":0.32},
{"x":0.23,"y":-0.08,"f":0.1,"lo":-0.43,"hi":0.59,"r":-0.18,"c":-0.18,"ex":0.2,"ey":-0.3},
{"x":0.24,"y":0.11,"f":0.12,"lo":-0.41,"hi":0.6,"r":-0.01,"c":-0.01,"ex":0.22,"ey":-0.1},
{"x":0.26,"y":0.2,"f":0.09,"lo":-0.44,"hi":0.58,"r":0.11,"c":0.11,"ex":0.25,"ey":0.14},
{"x":0.29,"y":0.0,"f":0.08,"lo":-0.45,"hi":0.59,"r":-0.08,"c":-0.08,"ex":0.27,"ey":-0.02},
{"x":0.31,"y":0.24,"f":0.07,"lo":-0.46,"hi":0.6,"r":0.17,"c":0.17,"ex":0.26,"ey":0.12},
{"x":0.33,"y":0.12,"f":0.1,"lo":-0.43,"hi":0.59,"r":0.02,"c":0.02,"ex":0.3,"ey":-0.12},
{"x":0.35,"y":-0.12,"f":0.06,"lo":-0.47,"hi":0.59,"r":-0.18,"c":-0.18,"ex":0.33,"ey":-0.27},
{"x":0.37,"y":0.16,"f":0.07,"lo":-0.46,"hi":0.6,"r":0.09,"c":0.09,"ex":0.35,"ey":0.06},
{"x":0.39,"y":0.05,"f":0.08,"lo":-0.45,"hi":0.59,"r":-0.03,"c":-0.03,"ex":0.38,"ey":-0.05},
{"x":0.41,"y":0.19,"f":0.05,"lo":-0.48,"hi":0.58,"r":0.14,"c":0.14,"ex":0.42,"ey":0.14},
{"x":0.43,"y":-0.03,"f":0.07,"lo":-0.46,"hi":0.59,"r":-0.1,"c":-0.1,"ex":0.4,"ey":-0.18},
{"x":0.45,"y":0.1,"f":0.07,"lo":-0.46,"hi":0.6,"r":0.03,"c":0.03,"ex":0.45,"ey":0.07},
{"x":0.48,"y":0.06,"f":0.05,"lo":-0.48,"hi":0.58,"r":0.01,"c":0.015,"ex":0.47,"ey":-0.06},
{"x":0.55,"y":0.1,"f":0.04,"lo":-0.49,"hi":0.57,"r":0.06,"c":0.065,"ex":0.52,"ey":0.18},
{"x":0.58,"y":0.02,"f":0.05,"lo":-0.48,"hi":0.58,"r":-0.03,"c":-0.03,"ex":0.52,"ey":-0.02},
{"x":0.66,"y":0.07,"f":0.03,"lo":-0.5,"hi":0.56,"r":0.04,"c":0.045,"ex":0.55,"ey":0.05},
{"x":0.72,"y":0.02,"f":0.05,"lo":-0.48,"hi":0.57,"r":-0.03,"c":-0.025,"ex":0.6,"ey":-0.07},
{"x":-0.34,"y":-0.11,"f":-0.05,"lo":-0.58,"hi":0.48,"r":-0.06,"c":-0.06,"ex":-0.42,"ey":0.0},
{"x":-0.28,"y":0.08,"f":-0.06,"lo":-0.59,"hi":0.47,"r":0.14,"c":0.14,"ex":-0.36,"ey":0.1},
{"x":-0.22,"y":-0.08,"f":-0.07,"lo":-0.6,"hi":0.46,"r":-0.01,"c":-0.01,"ex":-0.28,"ey":-0.04},
{"x":-0.17,"y":0.02,"f":-0.07,"lo":-0.6,"hi":0.46,"r":0.09,"c":0.09,"ex":-0.22,"ey":0.13},
{"x":-0.12,"y":-0.13,"f":-0.08,"lo":-0.61,"hi":0.45,"r":-0.05,"c":-0.05,"ex":-0.18,"ey":-0.06},
{"x":-0.08,"y":0.1,"f":-0.08,"lo":-0.61,"hi":0.45,"r":0.18,"c":0.18,"ex":-0.1,"ey":0.08},
{"x":-0.04,"y":-0.07,"f":-0.08,"lo":-0.6,"hi":0.45,"r":0.01,"c":0.01,"ex":-0.08,"ey":-0.01},
{"x":0.0,"y":0.05,"f":-0.08,"lo":-0.6,"hi":0.45,"r":0.13,"c":0.13,"ex":0.0,"ey":0.15},
{"x":0.05,"y":-0.02,"f":-0.07,"lo":-0.59,"hi":0.46,"r":0.05,"c":0.05,"ex":0.04,"ey":0.04},
{"x":0.1,"y":0.01,"f":-0.06,"lo":-0.58,"hi":0.47,"r":0.07,"c":0.07,"ex":0.07,"ey":0.12},
{"x":0.16,"y":0.1,"f":-0.06,"lo":-0.58,"hi":0.47,"r":0.16,"c":0.16,"ex":0.14,"ey":0.08},
{"x":0.22,"y":0.04,"f":-0.05,"lo":-0.57,"hi":0.48,"r":0.09,"c":0.09,"ex":0.2,"ey":0.03},
{"x":0.28,"y":0.1,"f":-0.05,"lo":-0.57,"hi":0.48,"r":0.15,"c":0.15,"ex":0.24,"ey":0.02},
{"x":0.34,"y":0.03,"f":-0.04,"lo":-0.56,"hi":0.49,"r":0.07,"c":0.07,"ex":0.32,"ey":0.1},
{"x":0.4,"y":0.0,"f":-0.03,"lo":-0.56,"hi":0.5,"r":0.03,"c":0.035,"ex":0.37,"ey":-0.01},
{"x":0.5,"y":0.09,"f":-0.02,"lo":-0.55,"hi":0.51,"r":0.11,"c":0.115,"ex":0.46,"ey":0.12},
{"x":-0.5,"y":0.02,"f":0.06,"lo":-0.47,"hi":0.57,"r":-0.04,"c":-0.045,"ex":-0.56,"ey":0.08},
{"x":-0.44,"y":0.0,"f":0.07,"lo":-0.46,"hi":0.58,"r":-0.07,"c":-0.075,"ex":-0.52,"ey":-0.06},
{"x":-0.58,"y":0.04,"f":0.05,"lo":-0.48,"hi":0.56,"r":-0.01,"c":-0.015,"ex":-0.64,"ey":0.02},
{"x":-0.68,"y":0.03,"f":-0.03,"lo":-0.56,"hi":0.5,"r":0.06,"c":0.055,"ex":-0.7,"ey":0.0},
{"x":-0.76,"y":0.02,"f":0.05,"lo":-0.48,"hi":0.56,"r":-0.03,"c":-0.035,"ex":-0.62,"ey":-0.12},
{"x":-0.82,"y":-0.03,"f":-0.03,"lo":-0.56,"hi":0.5,"r":0.0,"c":-0.005,"ex":-0.66,"ey":0.04},
{"x":0.6,"y":0.13,"f":0.08,"lo":-0.45,"hi":0.58,"r":0.05,"c":0.055,"ex":0.5,"ey":0.12},
{"x":0.68,"y":0.06,"f":0.07,"lo":-0.46,"hi":0.58,"r":-0.01,"c":-0.005,"ex":0.48,"ey":-0.13},
{"x":0.78,"y":0.11,"f":0.06,"lo":-0.47,"hi":0.57,"r":0.05,"c":0.055,"ex":0.58,"ey":0.09},
{"x":0.88,"y":0.03,"f":0.05,"lo":-0.47,"hi":0.56,"r":-0.02,"c":-0.015,"ex":0.63,"ey":0.1},
{"x":0.6,"y":0.0,"f":0.0,"lo":-0.52,"hi":0.53,"r":0.0,"c":0.005,"ex":0.44,"ey":0.2},
{"x":0.76,"y":0.05,"f":0.01,"lo":-0.51,"hi":0.53,"r":0.04,"c":0.045,"ex":0.56,"ey":-0.01},
{"x":-0.18,"y":0.27,"f":0.0,"lo":-0.53,"hi":0.53,"r":0.27,"c":0.27,"ex":-0.04,"ey":0.36},
{"x":-0.1,"y":0.4,"f":0.02,"lo":-0.51,"hi":0.55,"r":0.38,"c":0.38,"ex":0.02,"ey":0.4},
{"x":-0.07,"y":0.34,"f":0.01,"lo":-0.52,"hi":0.54,"r":0.33,"c":0.33,"ex":0.06,"ey":0.29},
{"x":-0.02,"y":0.26,"f":0.0,"lo":-0.53,"hi":0.53,"r":0.26,"c":0.26,"ex":0.1,"ey":0.24},
{"x":0.02,"y":0.42,"f":0.02,"lo":-0.51,"hi":0.55,"r":0.4,"c":0.4,"ex":0.15,"ey":0.35},
{"x":0.07,"y":0.3,"f":0.0,"lo":-0.53,"hi":0.53,"r":0.3,"c":0.3,"ex":0.2,"ey":0.4},
{"x":0.13,"y":0.35,"f":0.02,"lo":-0.51,"hi":0.55,"r":0.33,"c":0.33,"ex":0.25,"ey":0.3},
{"x":0.16,"y":0.3,"f":0.02,"lo":-0.51,"hi":0.55,"r":0.28,"c":0.28,"ex":0.3,"ey":0.25},
{"x":0.25,"y":0.29,"f":0.01,"lo":-0.52,"hi":0.54,"r":0.28,"c":0.28,"ex":0.35,"ey":0.28},
{"x":0.03,"y":0.5,"f":0.03,"lo":-0.5,"hi":0.56,"r":0.47,"c":0.47,"ex":0.18,"ey":0.47},
{"x":-0.17,"y":-0.3,"f":-0.01,"lo":-0.54,"hi":0.52,"r":-0.29,"c":-0.29,"ex":-0.08,"ey":-0.38},
{"x":-0.13,"y":-0.42,"f":0.0,"lo":-0.53,"hi":0.53,"r":-0.42,"c":-0.42,"ex":-0.02,"ey":-0.41},
{"x":-0.07,"y":-0.3,"f":0.0,"lo":-0.53,"hi":0.53,"r":-0.3,"c":-0.3,"ex":0.02,"ey":-0.3},
{"x":-0.05,"y":-0.37,"f":0.0,"lo":-0.53,"hi":0.53,"r":-0.37,"c":-0.37,"ex":0.06,"ey":-0.37},
{"x":-0.01,"y":-0.46,"f":0.02,"lo":-0.51,"hi":0.55,"r":-0.48,"c":-0.48,"ex":0.12,"ey":-0.42},
{"x":0.03,"y":-0.33,"f":0.0,"lo":-0.53,"hi":0.53,"r":-0.33,"c":-0.33,"ex":0.1,"ey":-0.33},
{"x":0.05,"y":-0.25,"f":0.01,"lo":-0.52,"hi":0.54,"r":-0.26,"c":-0.26,"ex":0.14,"ey":-0.28},
{"x":-0.3,"y":-0.17,"f":0.0,"lo":-0.53,"hi":0.53,"r":-0.17,"c":-0.17,"ex":-0.12,"ey":-0.22},
{"x":0.13,"y":-0.3,"f":0.01,"lo":-0.52,"hi":0.54,"r":-0.31,"c":-0.31,"ex":0.17,"ey":-0.36},
{"x":-0.08,"y":-0.21,"f":0.0,"lo":-0.53,"hi":0.53,"r":-0.21,"c":-0.21,"ex":0.25,"ey":-0.25}
],"fitline":[{"a":-9,"b":-0.055},{"a":5.85,"b":0.04}],"ccprline":[{"a":-5.93,"b":-0.04},{"a":6.5,"b":0.045}],"zeroline":[{"a":-5.92,"b":0},{"a":6.5,"b":0}]},
"columns":2,"spacing":{"row":64,"column":76},"bounds":"flush","align":"each","concat":[
{"width":487,"height":216,"title":"Y and Fitted vs. X","layer":[
{"data":{"name":"obs"},"mark":{"type":"rule","color":"#000000","opacity":0.65,"strokeWidth":1,"clip":true},"encoding":{"x":{"field":"x","type":"quantitative","scale":{"domain":[-5.93,6.68],"nice":false,"zero":false},"axis":{"values":[-4,-2,0,2,4,6],"format":"d","title":"Ebit W"}},"y":{"field":"lo","type":"quantitative","scale":{"domain":[-0.907,0.924],"nice":false,"zero":false},"axis":{"values":[-0.75,-0.5,-0.25,0,0.25,0.5,0.75],"format":".2f","title":"logret winz"}},"y2":{"field":"hi"}}},
{"data":{"name":"obs"},"mark":{"type":"point","filled":true,"opacity":1,"size":55,"clip":true},"encoding":{"x":{"field":"x","type":"quantitative"},"y":{"field":"y","type":"quantitative"},"color":{"datum":"logret winz","type":"nominal","scale":{"domain":["logret winz","fitted"],"range":["#4C72B0","#C44E5299"]},"legend":{"title":null,"orient":"none","legendX":385,"legendY":6,"fillColor":"rgba(234,234,242,0.85)","strokeColor":"#CCCCCC","cornerRadius":3,"padding":6,"labelFontSize":11.5,"labelColor":"#3a3a3a","symbolSize":60,"labelOffset":18,"rowPadding":3,"symbolOpacity":1}},"shape":{"datum":"logret winz","type":"nominal","scale":{"domain":["logret winz","fitted"],"range":["circle","diamond"]}}}},
{"data":{"name":"obs"},"mark":{"type":"point","filled":true,"opacity":1,"size":75,"clip":true},"encoding":{"x":{"field":"x","type":"quantitative"},"y":{"field":"f","type":"quantitative"},"color":{"datum":"fitted","type":"nominal"},"shape":{"datum":"fitted","type":"nominal"}}}
]},
{"width":479,"height":216,"title":"Residuals versus Ebit W","layer":[
{"data":{"name":"obs"},"mark":{"type":"point","filled":true,"opacity":1,"size":55,"color":"#4C72B0","clip":true},"encoding":{"x":{"field":"x","type":"quantitative","scale":{"domain":[-5.92,6.5],"nice":false,"zero":false},"axis":{"values":[-4,-2,0,2,4,6],"format":"d","title":"Ebit W"}},"y":{"field":"r","type":"quantitative","scale":{"domain":[-0.902,0.977],"nice":false,"zero":false},"axis":{"values":[-0.75,-0.5,-0.25,0,0.25,0.5,0.75],"format":".2f","title":"resid"}}}},
{"data":{"name":"zeroline"},"mark":{"type":"line","color":"#333333","strokeWidth":2,"clip":true},"encoding":{"x":{"field":"a","type":"quantitative"},"y":{"field":"b","type":"quantitative"}}}
]},
{"width":487,"height":216,"title":"Partial regression plot","layer":[
{"data":{"name":"obs"},"mark":{"type":"point","filled":true,"opacity":1,"size":55,"color":"#4C72B0","clip":true},"encoding":{"x":{"field":"ex","type":"quantitative","scale":{"domain":[-8.97,5.84],"nice":false,"zero":false},"axis":{"values":[-8,-6,-4,-2,0,2,4],"format":"d","title":"e(Ebit W | X)"}},"y":{"field":"ey","type":"quantitative","scale":{"domain":[-0.898,0.957],"nice":false,"zero":false},"axis":{"values":[-0.75,-0.5,-0.25,0,0.25,0.5,0.75],"format":".2f","title":"e(logret winz | X)"}}}},
{"data":{"name":"fitline"},"mark":{"type":"line","color":"#333333","strokeWidth":2,"clip":true},"encoding":{"x":{"field":"a","type":"quantitative"},"y":{"field":"b","type":"quantitative"}}}
]},
{"width":479,"height":216,"title":"CCPR Plot","layer":[
{"data":{"name":"obs"},"mark":{"type":"point","filled":true,"opacity":1,"size":55,"color":"#4C72B0","clip":true},"encoding":{"x":{"field":"x","type":"quantitative","scale":{"domain":[-5.92,6.5],"nice":false,"zero":false},"axis":{"values":[-4,-2,0,2,4,6],"format":"d","title":"Ebit W"}},"y":{"field":"c","type":"quantitative","scale":{"domain":[-0.898,0.957],"nice":false,"zero":false},"axis":{"values":[-0.75,-0.5,-0.25,0,0.25,0.5,0.75],"format":".2f","title":"Residual + Ebit W*beta_3"}}}},
{"data":{"name":"ccprline"},"mark":{"type":"line","color":"#6F8FC4","strokeWidth":2,"clip":true},"encoding":{"x":{"field":"a","type":"quantitative"},"y":{"field":"b","type":"quantitative"}}}
]}
]}
